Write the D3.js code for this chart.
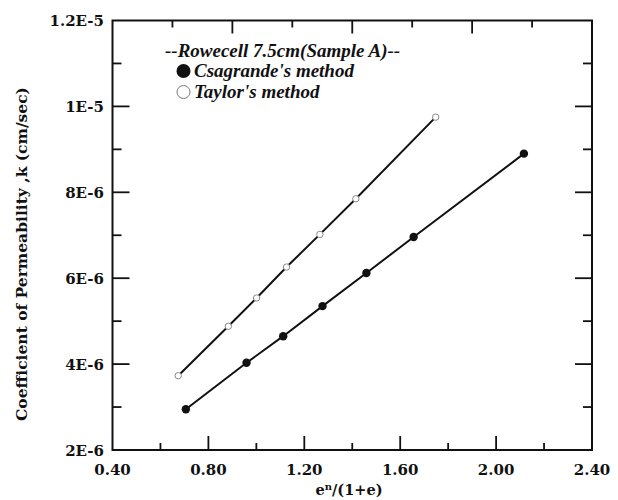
<!DOCTYPE html>
<html>
<head>
<meta charset="utf-8">
<script src="https://cdn.jsdelivr.net/npm/d3@7"></script>
<style>
  html, body { margin: 0; padding: 0; background: #fff; }
  svg { display: block; }
  .tick-label { font-family: "DejaVu Serif", serif; font-weight: bold; font-size: 15px; fill: #111; }
  .axis-title { font-family: "DejaVu Serif", serif; font-weight: bold; font-size: 15.5px; fill: #111; }
  .legend { font-family: "Liberation Serif", serif; font-weight: bold; font-style: italic; font-size: 19px; fill: #111; }
</style>
</head>
<body>
<svg id="chart" width="618" height="500"></svg>
<script>
// Void-ratio function e^n/(1+e) against coefficient of permeability k
const csagrandeX = [0.706, 0.959, 1.112, 1.276, 1.459, 1.656, 2.116];
const csagrandeK = [2.95e-6, 4.03e-6, 4.65e-6, 5.35e-6, 6.12e-6, 6.96e-6, 8.90e-6];
const taylorX = [0.674, 0.883, 1.001, 1.126, 1.265, 1.415, 1.748];
const taylorK = [3.73e-6, 4.88e-6, 5.54e-6, 6.26e-6, 7.02e-6, 7.85e-6, 9.75e-6];

const xTickValues = [0.40, 0.80, 1.20, 1.60, 2.00, 2.40];
const xTickLabels = ["0.40", "0.80", "1.20", "1.60", "2.00", "2.40"];
const yTickValues = [2e-6, 4e-6, 6e-6, 8e-6, 1e-5, 1.2e-5];
const yTickLabels = ["2E-6", "4E-6", "6E-6", "8E-6", "1E-5", "1.2E-5"];

const legendTitle = "--Rowecell 7.5cm(Sample A)--";
const seriesNames = ["Csagrande's method", "Taylor's method"];

const svg = d3.select("#chart");
const plotL = 112.5, plotR = 592, plotT = 20.5, plotB = 450;

const x = d3.scaleLinear().domain([0.4, 2.4]).range([plotL, plotR]);
const y = d3.scaleLinear().domain([2e-6, 1.2e-5]).range([plotB, plotT]);

const ink = "#111";

// frame
svg.append("rect")
  .attr("x", plotL).attr("y", plotT)
  .attr("width", plotR - plotL).attr("height", plotB - plotT)
  .attr("fill", "none").attr("stroke", ink).attr("stroke-width", 2);

// bottom ticks (inward): long at labels, short midway
const g = svg.append("g").attr("stroke", ink).attr("stroke-width", 1.8);
d3.range(0.6, 2.3, 0.2).forEach((v, i) => {
  const major = i % 2 === 1;
  g.append("line").attr("x1", x(v)).attr("x2", x(v))
    .attr("y1", plotB).attr("y2", plotB - (major ? 14 : 7));
});
// top ticks (inward), spaced every 0.25
d3.range(0.65, 2.3, 0.25).forEach((v, i) => {
  const major = i % 2 === 1;
  g.append("line").attr("x1", x(v)).attr("x2", x(v))
    .attr("y1", plotT).attr("y2", plotT + (major ? 13 : 7));
});
// left and right ticks every 1E-6
d3.range(3e-6, 1.15e-5, 1e-6).forEach((v, i) => {
  const major = i % 2 === 1;
  const len = major ? 17 : 9;
  g.append("line").attr("x1", plotL).attr("x2", plotL + len)
    .attr("y1", y(v)).attr("y2", y(v));
  g.append("line").attr("x1", plotR).attr("x2", plotR - len)
    .attr("y1", y(v)).attr("y2", y(v));
});

// tick labels
svg.append("g").selectAll("text").data(xTickValues).join("text")
  .attr("class", "tick-label")
  .attr("x", d => x(d)).attr("y", 475)
  .attr("text-anchor", "middle")
  .text((d, i) => xTickLabels[i]);

svg.append("g").selectAll("text").data(yTickValues).join("text")
  .attr("class", "tick-label")
  .attr("x", 104).attr("y", d => y(d) + 5.5)
  .attr("text-anchor", "end")
  .text((d, i) => yTickLabels[i]);

// axis titles
svg.append("text").attr("class", "axis-title")
  .attr("transform", "translate(27,254) rotate(-90)")
  .attr("text-anchor", "middle")
  .text("Coefficient of Permeability ,k (cm/sec)");

const xt = svg.append("text").attr("class", "axis-title")
  .attr("x", 349).attr("y", 495).attr("text-anchor", "middle")
  .style("font-size", "14.5px");
xt.append("tspan").text("e");
xt.append("tspan").attr("dy", -5).attr("font-size", "10px").text("n");
xt.append("tspan").attr("dy", 5).text("/(1+e)");

// series
const line = d3.line().x(d => x(d[0])).y(d => y(d[1]));
const cs = csagrandeX.map((v, i) => [v, csagrandeK[i]]);
const ty = taylorX.map((v, i) => [v, taylorK[i]]);

svg.append("path").datum(cs).attr("d", line)
  .attr("fill", "none").attr("stroke", ink).attr("stroke-width", 2);
svg.append("path").datum(ty).attr("d", line)
  .attr("fill", "none").attr("stroke", ink).attr("stroke-width", 2);

svg.append("g").selectAll("circle").data(cs).join("circle")
  .attr("cx", d => x(d[0])).attr("cy", d => y(d[1])).attr("r", 4.2)
  .attr("fill", ink);
svg.append("g").selectAll("circle").data(ty).join("circle")
  .attr("cx", d => x(d[0])).attr("cy", d => y(d[1])).attr("r", 3.2)
  .attr("fill", "#fff").attr("stroke", "#888").attr("stroke-width", 1);

// legend
svg.append("text").attr("class", "legend")
  .attr("x", 165).attr("y", 57).text(legendTitle);
svg.append("circle").attr("cx", 183.5).attr("cy", 71).attr("r", 7).attr("fill", ink);
svg.append("text").attr("class", "legend")
  .attr("x", 194).attr("y", 77).text(seriesNames[0]);
svg.append("circle").attr("cx", 183.5).attr("cy", 92).attr("r", 6.5)
  .attr("fill", "#fff").attr("stroke", "#777").attr("stroke-width", 1);
svg.append("text").attr("class", "legend")
  .attr("x", 194).attr("y", 98).text(seriesNames[1]);
</script>
</body>
</html>
